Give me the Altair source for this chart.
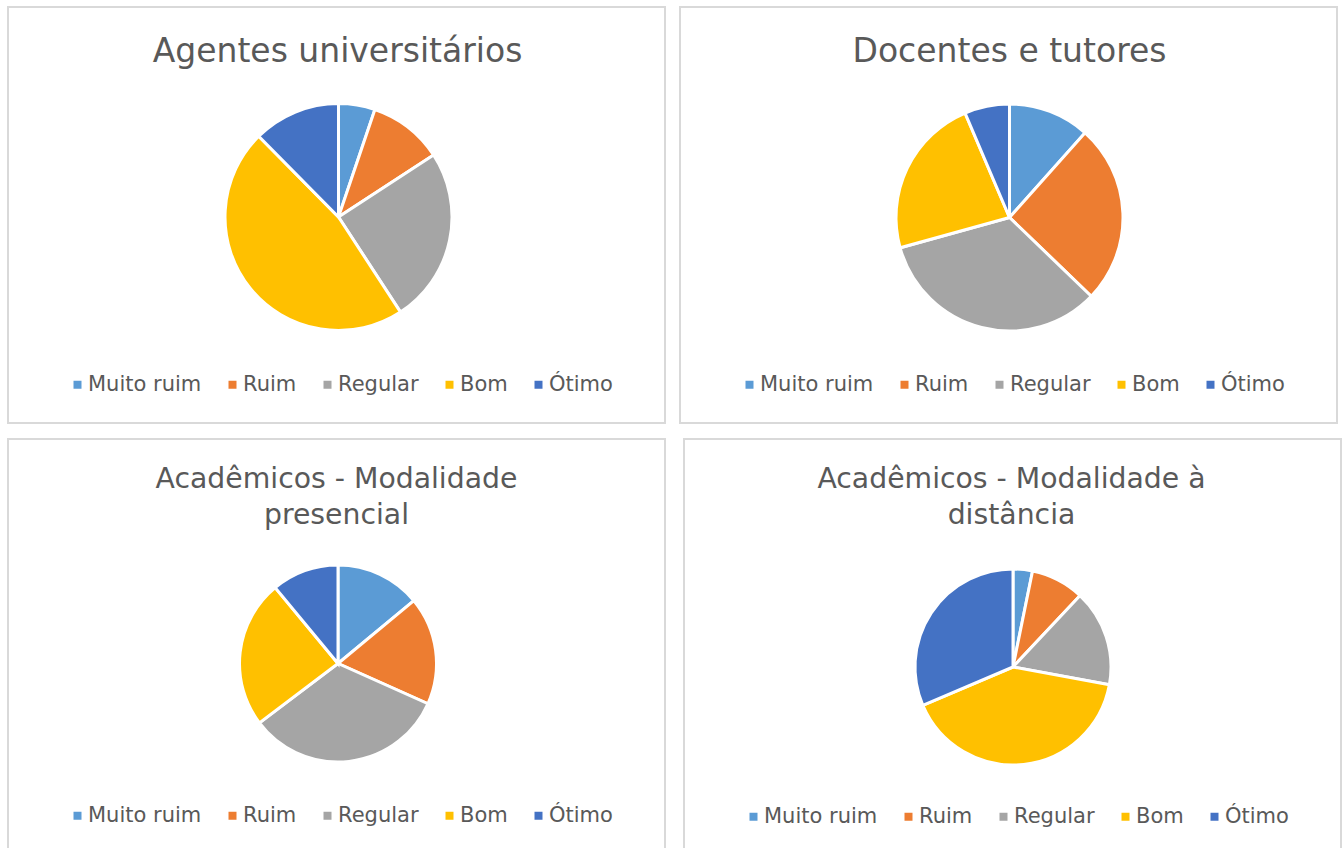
import altair as alt
import pandas as pd

categories = ["Muito ruim", "Ruim", "Regular", "Bom", "Ótimo"]
colors = ["#5B9BD5", "#ED7D31", "#A5A5A5", "#FFC000", "#4472C4"]

agentes = [5.2, 10.6, 25.0, 46.8, 12.4]
docentes = [11.6, 25.6, 33.5, 22.9, 6.4]
presencial = [14.0, 17.7, 33.0, 24.3, 11.0]
distancia = [3.2, 8.8, 15.9, 40.7, 31.4]

titles = [
    "Agentes universitários",
    "Docentes e tutores",
    "Acadêmicos - Modalidade\npresencial",
    "Acadêmicos - Modalidade à\ndistância",
]

FONT = "DejaVu Sans"
TEXT_COLOR = "#595959"
W, H = 657, 416


def panel(values, title, cx, cy, r, title_size, title_x, title_y, legend_y):
    df = pd.DataFrame({"cat": categories, "val": values, "idx": list(range(len(categories)))})
    arc = alt.Chart(df).mark_arc(radius=r, stroke="white", strokeWidth=3).encode(
        theta=alt.Theta("val:Q", stack=True),
        order=alt.Order("idx:Q"),
        x=alt.value(cx),
        y=alt.value(cy),
        color=alt.Color(
            "cat:N",
            scale=alt.Scale(domain=categories, range=colors),
            legend=alt.Legend(
                title=None,
                orient="none",
                legendX=59,
                legendY=legend_y,
                direction="horizontal",
                columns=5,
                symbolType="square",
                symbolSize=64,
                symbolStrokeWidth=0,
                labelFont=FONT,
                labelFontSize=21,
                labelColor=TEXT_COLOR,
                labelOffset=0,
                columnPadding=20,
                padding=0,
            ),
        ),
    )
    tdf = pd.DataFrame({"t": [title]})
    txt = alt.Chart(tdf).mark_text(
        font=FONT,
        fontSize=title_size,
        color=TEXT_COLOR,
        align="center",
        baseline="alphabetic",
        lineBreak="\n",
        lineHeight=36,
    ).encode(text="t:N", x=alt.value(title_x), y=alt.value(title_y))
    return alt.layer(arc, txt).properties(width=W, height=H)


p1 = panel(agentes, titles[0], 330.5, 210, 113.5, 33, 329.5, 55, 367)
p2 = panel(docentes, titles[1], 329.5, 210.5, 113.5, 33, 329.5, 55, 367)
p3 = panel(presencial, titles[2], 330, 224.5, 98.5, 28.3, 328.5, 49, 366)
p4 = panel(distancia, titles[3], 329, 228, 98, 28.3, 327.5, 49, 367)

top = alt.hconcat(p1, p2, spacing=13).resolve_scale(color="independent")
bottom = alt.hconcat(p3, p4, spacing=17).resolve_scale(color="independent")

chart = (
    alt.vconcat(top, bottom, spacing=14)
    .resolve_scale(color="independent")
    .properties(padding={"left": 7, "top": 6, "right": 0, "bottom": 0}, background="white")
    .configure_view(stroke="#d9d9d9", strokeWidth=2)
)

chart.save("out.html", embed_options={"renderer": "svg", "actions": False})
